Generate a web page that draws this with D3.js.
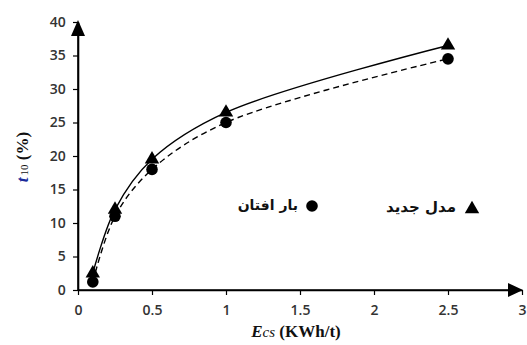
<!DOCTYPE html>
<html><head><meta charset="utf-8">
<script src="https://cdn.jsdelivr.net/npm/d3@7/dist/d3.min.js"></script>
<style>body{margin:0;background:#fff}svg{display:block}</style>
</head><body><svg id="c" width="527" height="345"></svg>
<script>
const xValues = [0.1, 0.25, 0.5, 1, 2.5];
const modelValues = [2.5, 12, 19.5, 26.5, 36.5];   // مدل جدید (triangles, solid)
const dropValues = [1.2, 11, 18, 25, 34.5];        // بار افتان (circles, dashed)
const xTicks = [0, 0.5, 1, 1.5, 2, 2.5, 3];
const yTicks = [0, 5, 10, 15, 20, 25, 30, 35, 40];
const legendModel = "مدل جدید";
const legendDrop = "بار افتان";

const svg = d3.select("#c");
const x = d3.scaleLinear().domain([0, 3]).range([78, 522]);
const y = d3.scaleLinear().domain([0, 40]).range([290, 22]);

// axes
const xAxis = svg.append("g").attr("transform", `translate(0,${y(0)})`)
  .call(d3.axisBottom(x).tickValues(xTicks).tickSize(5).tickSizeOuter(0).tickFormat(d3.format("")));
const yAxis = svg.append("g").attr("transform", `translate(${x(0)},0)`)
  .call(d3.axisLeft(y).tickValues(yTicks).tickSize(5).tickSizeOuter(0).tickFormat(d3.format("")));
[xAxis, yAxis].forEach(g => {
  g.select(".domain").attr("stroke", "#000").attr("stroke-width", 1.6);
  g.selectAll(".tick line").attr("stroke", "#000").attr("stroke-width", 1.2);
  g.selectAll(".tick text").attr("fill", "#333").attr("font-family", "Open Sans, Liberation Sans, sans-serif")
    .attr("font-weight", 600).attr("font-size", 14);
});
xAxis.selectAll(".tick text").attr("dy", "1.2em");
yAxis.selectAll(".tick text").attr("dx", "-0.3em");
// extend axis lines to arrows
svg.append("line").attr("x1", x(0)).attr("x2", 515).attr("y1", y(0)).attr("y2", y(0)).attr("stroke", "#000").attr("stroke-width", 1.6);
svg.append("line").attr("x1", x(0)).attr("x2", x(0)).attr("y1", y(0)).attr("y2", 28).attr("stroke", "#000").attr("stroke-width", 1.6);
// arrowheads
svg.append("path").attr("d", `M${x(0)},20 L${x(0)+7},36 L${x(0)-7},36 Z`).attr("fill", "#000");
svg.append("path").attr("d", `M523,${y(0)} L508,${y(0)-7} L508,${y(0)+7} Z`).attr("fill", "#000");

// curves
const line = d3.line().curve(d3.curveCatmullRom.alpha(0.5)).x(d => x(d[0])).y(d => y(d[1]));
svg.append("path").datum(xValues.map((v, i) => [v, modelValues[i]]))
  .attr("d", line).attr("fill", "none").attr("stroke", "#000").attr("stroke-width", 1.4);
svg.append("path").datum(xValues.map((v, i) => [v, dropValues[i]]))
  .attr("d", line).attr("fill", "none").attr("stroke", "#000").attr("stroke-width", 1.4).attr("stroke-dasharray", "6,4");

// markers
const tri = d3.symbol().type(d3.symbolTriangle).size(90);
svg.selectAll(".c").data(xValues).enter().append("circle")
  .attr("cx", d => x(d)).attr("cy", (d, i) => y(dropValues[i])).attr("r", 5.8).attr("fill", "#000");
svg.selectAll(".t").data(xValues).enter().append("path")
  .attr("d", tri).attr("transform", (d, i) => `translate(${x(d)},${y(modelValues[i])})`).attr("fill", "#000");

// legend
svg.append("path").attr("d", tri).attr("transform", "translate(472,209)").attr("fill", "#000");
svg.append("text").attr("x", 456).attr("y", 212).attr("text-anchor", "end")
  .attr("font-family", "DejaVu Sans, sans-serif").attr("font-size", 15).attr("font-weight", "bold").attr("fill", "#111").text(legendModel);
svg.append("circle").attr("cx", 312).attr("cy", 206).attr("r", 5.8).attr("fill", "#000");
svg.append("text").attr("x", 298).attr("y", 210).attr("text-anchor", "end")
  .attr("font-family", "DejaVu Sans, sans-serif").attr("font-size", 14).attr("font-weight", "bold").attr("fill", "#111").text(legendDrop);

// axis titles
const xt = svg.append("text").attr("x", 296).attr("y", 337).attr("text-anchor", "middle")
  .attr("font-family", "Liberation Serif, Times New Roman, serif").attr("font-size", 17).attr("font-weight", "bold").attr("fill", "#111");
xt.append("tspan").attr("font-style", "italic").text("E");
xt.append("tspan").attr("font-style", "italic").attr("font-weight", "normal").attr("font-size", 15).text("cs");
xt.append("tspan").text(" (KWh/t)");

const yt = svg.append("text").attr("transform", "translate(28,157) rotate(-90)").attr("text-anchor", "middle")
  .attr("font-family", "Liberation Serif, Times New Roman, serif").attr("font-size", 17).attr("font-weight", "bold").attr("fill", "#111");
yt.append("tspan").attr("font-style", "italic").attr("fill", "#1a2a9a").text("t");
yt.append("tspan").attr("font-size", 11).attr("font-weight", "normal").attr("dx", 2).text("10");
yt.append("tspan").text(" (%)");
</script></body></html>
